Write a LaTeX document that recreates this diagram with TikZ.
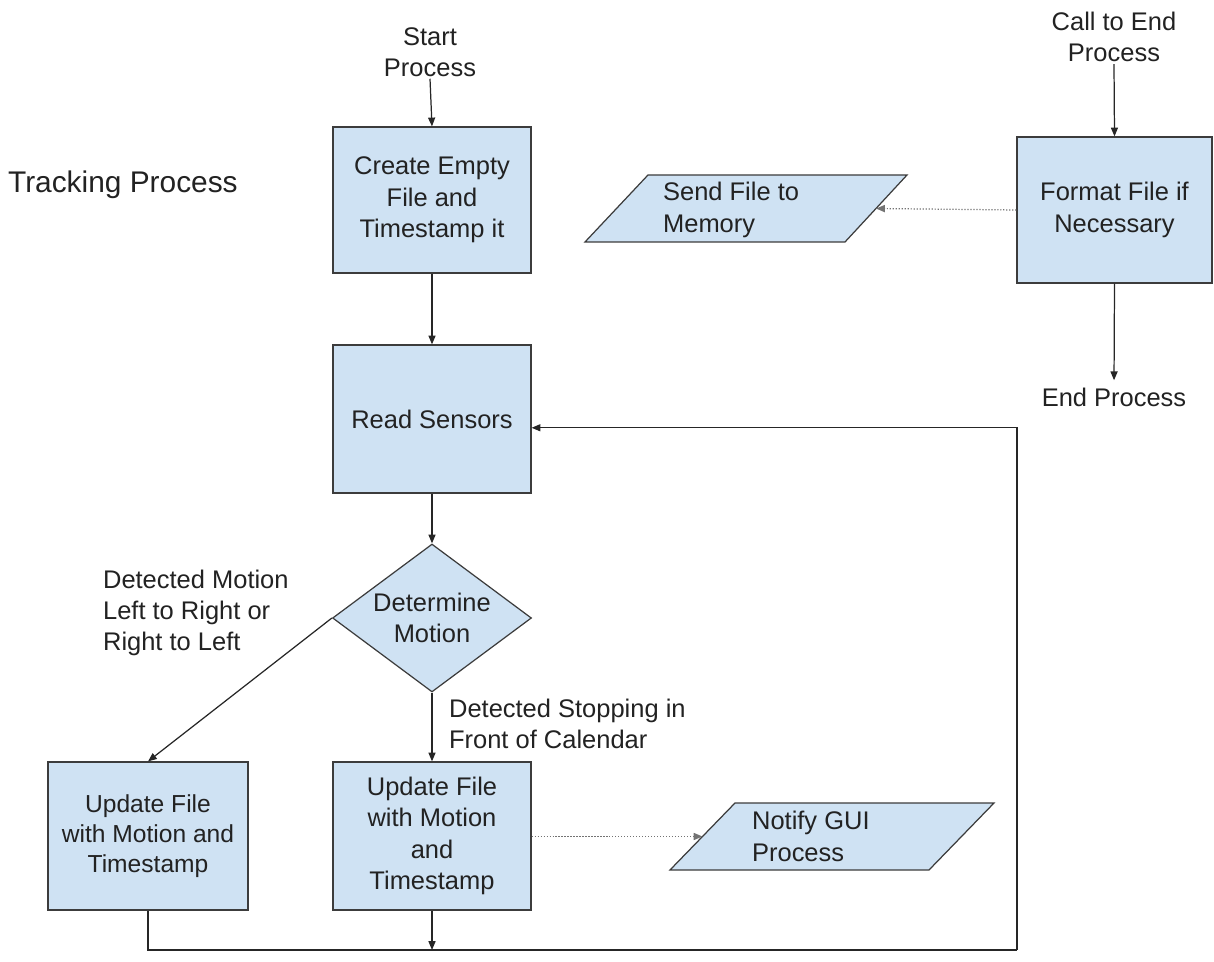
\documentclass[tikz,border=0pt]{standalone}
\usepackage{fontspec}
\setmainfont{Liberation Sans}
\usetikzlibrary{shapes.geometric,arrows.meta}
\definecolor{boxfill}{HTML}{CFE2F3}
\definecolor{boxline}{HTML}{3C3C3C}
\definecolor{txtcol}{HTML}{222222}
\begin{document}
\begin{tikzpicture}[x=0.02cm,y=-0.02cm,
  txt/.style={font=\fontsize{14.5pt}{17.8pt}\selectfont, align=center, inner sep=1pt, text=txtcol},
  procbox/.style={draw=boxline, fill=boxfill, line width=0.7pt, inner sep=0pt},
  iofill/.style={draw=boxline, fill=boxfill, line width=0.7pt, line join=miter},
  decision/.style={diamond, draw=boxline, fill=boxfill, line width=0.7pt, inner sep=0pt,
    aspect=1.345, minimum width=3.98cm, minimum height=2.96cm},
  arr/.style={draw=black!85, line width=0.7pt, -{Triangle[length=5pt,width=4pt]}},
  link/.style={draw=black!85, line width=0.7pt},
  dots/.style={draw=black!55, line width=0.7pt, densely dotted, -{Triangle[length=5pt,width=4pt]}}
]
\useasboundingbox (0,0) rectangle (1214,962);

% labels
\node[txt, anchor=west, font=\fontsize{17pt}{20pt}\selectfont] (title) at (6,185) {Tracking Process};
\node[txt] (start) at (430,52) {Start\\Process};
\node[txt] (callend) at (1114,37) {Call to End\\Process};
\node[txt] (endp) at (1114,397) {End Process};

% process boxes
\node[procbox, minimum width=3.96cm, minimum height=2.92cm] (create) at (432,200) {};
\node[txt] at (create.center) {Create Empty\\File and\\Timestamp it};
\node[procbox, minimum width=3.96cm, minimum height=2.96cm] (read) at (432,419) {};
\node[txt] at (read.center) {Read Sensors};
\node[decision] (dec) at (432,618) {};
\node[txt] at (dec.center) {Determine\\Motion};
\node[procbox, minimum width=4cm, minimum height=2.96cm] (upl) at (148,836) {};
\node[txt, font=\fontsize{14pt}{17pt}\selectfont] at (upl.center) {Update File\\with Motion and\\Timestamp};
\node[procbox, minimum width=3.96cm, minimum height=2.96cm] (upm) at (432,836) {};
\node[txt] at (upm.center) {Update File\\with Motion\\and\\Timestamp};
\node[procbox, minimum width=3.9cm, minimum height=2.92cm] (fmt) at (1114.5,210) {};
\node[txt] at (fmt.center) {Format File if\\Necessary};

% io shapes (parallelograms)
\draw[iofill] (648,175) -- (907,175) -- (845,242) -- (585,242) -- cycle;
\coordinate (sendR) at (876,208.5);
\node[txt, align=left, anchor=west] (send) at (661,210) {Send File to\\Memory};
\draw[iofill] (735,803) -- (994,803) -- (929,870) -- (670,870) -- cycle;
\coordinate (notifyL) at (702.5,836.5);
\node[txt, align=left, anchor=west] (notify) at (750,836.5) {Notify GUI\\Process};

% branch labels
\node[txt, align=left, anchor=west] (lblL) at (101,613) {Detected Motion\\Left to Right or\\Right to Left};
\node[txt, align=left, anchor=west] (lblR) at (447,724) {Detected Stopping in\\Front of Calendar};

\coordinate (loopbr) at (1017,950);

% connectors
\draw[arr] (start.south) -- (create.north);
\draw[arr] (create.south) -- (read.north);
\draw[arr] (read.south) -- (dec.north);
\draw[arr] (dec.west) -- (upl.north);
\draw[arr] (dec.south) -- (upm.north);
\draw[link] (upl.south) |- (loopbr);
\draw[arr] (loopbr) |- ([yshift=-5pt]read.east);
\draw[arr] (upm.south) -- (upm.south |- loopbr);
\draw[dots] (upm.east |- notifyL) -- (notifyL);
\draw[arr] (callend.south) -- (fmt.north);
\draw[arr, shorten >=3pt] (fmt.south) -- (endp.north);
\draw[dots] (fmt.west) -- (sendR);
\end{tikzpicture}
\end{document}
